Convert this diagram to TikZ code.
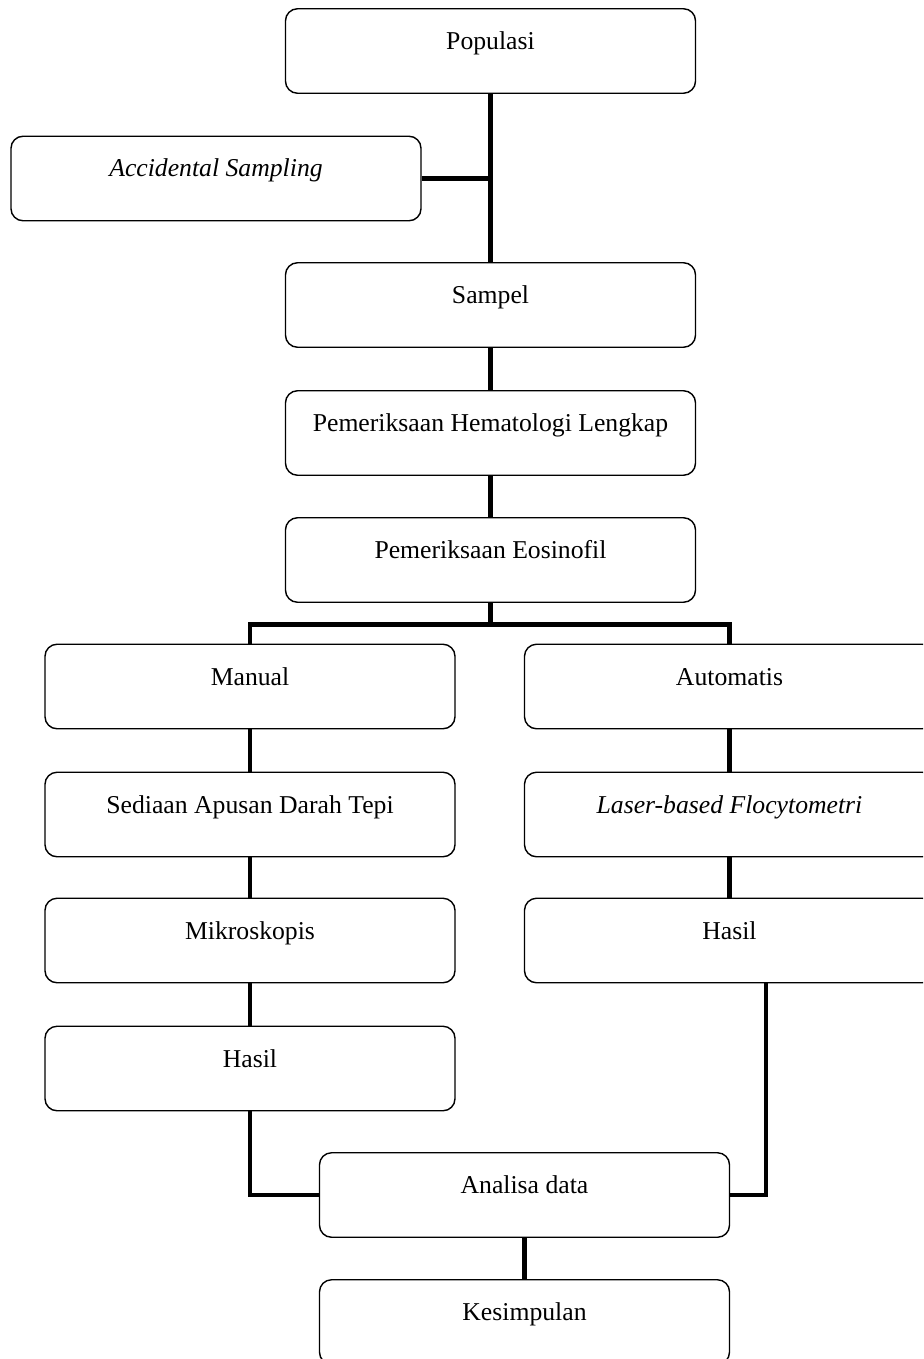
\documentclass[tikz,border=0pt]{standalone}
\usepackage{fontspec}
\setmainfont{Liberation Serif}
\begin{document}
\begin{tikzpicture}[x=1pt,y=-1pt,
  box/.style={draw, line width=1.4pt, rounded corners=12pt, minimum width=410pt,
    minimum height=84.5pt, inner sep=0pt, text height=18pt, text depth=21pt,
    font=\fontsize{25.7}{30}\selectfont},
  conn/.style={line width=4.5pt, line join=miter}]
\useasboundingbox (0,0) rectangle (923,1359);
\clip (0,0) rectangle (923,1359);
\node[box] (pop) at (490.5,51) {Populasi};
\node[box] (acc) at (216,178.5) {\itshape Accidental Sampling};
\node[box] (sam) at (490.5,305) {Sampel};
\node[box] (hem) at (490.5,433) {Pemeriksaan Hematologi Lengkap};
\node[box] (eos) at (490.5,560) {Pemeriksaan Eosinofil};
\node[box] (man) at (250,686.5) {Manual};
\node[box] (aut) at (729.5,686.5) {Automatis};
\node[box] (sed) at (250,814.5) {Sediaan Apusan Darah Tepi};
\node[box] (las) at (729.5,814.5) {\itshape Laser-based Flocytometri};
\node[box] (mik) at (250,940.5) {Mikroskopis};
\node[box] (has2) at (729.5,940.5) {Hasil};
\node[box] (has1) at (250,1068.5) {Hasil};
\node[box] (ana) at (524.5,1195) {Analisa data};
\node[box] (kes) at (524.5,1322) {Kesimpulan};
\coordinate (br) at (490.5,624.5);
\coordinate (hr) at (766,983);
\draw[conn] (pop.south) -- (sam.north);
\draw[conn] (acc.east) -- (acc.east -| pop.south);
\draw[conn] (sam.south) -- (hem.north);
\draw[conn] (hem.south) -- (eos.north);
\draw[conn] (eos.south) -- (br);
\draw[conn] (man.north) |- (br) -| (aut.north);
\draw[conn] (man.south) -- (sed.north);
\draw[conn] (sed.south) -- (mik.north);
\draw[conn] (mik.south) -- (has1.north);
\draw[conn] (aut.south) -- (las.north);
\draw[conn] (las.south) -- (has2.north);
\draw[conn] (has1.south) |- (ana.west);
\draw[conn] (hr) |- (ana.east);
\draw[conn] (ana.south) -- (kes.north);
\end{tikzpicture}
\end{document}
